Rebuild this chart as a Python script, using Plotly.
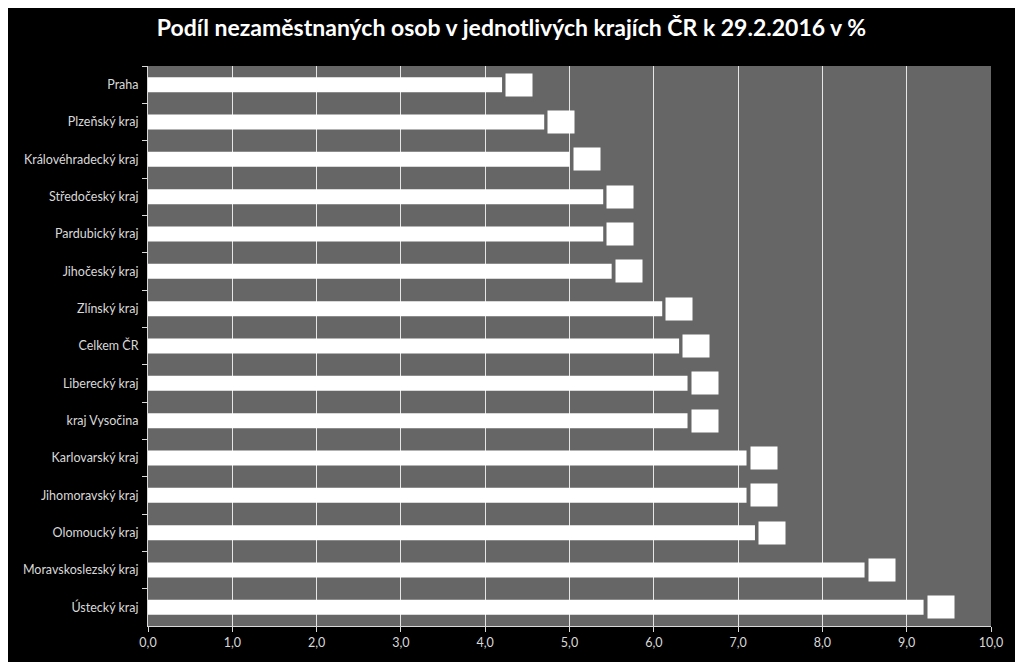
import plotly.graph_objects as go

regions = ["Praha", "Plzeňský kraj", "Královéhradecký kraj", "Středočeský kraj",
           "Pardubický kraj", "Jihočeský kraj", "Zlínský kraj", "Celkem ČR",
           "Liberecký kraj", "kraj Vysočina", "Karlovarský kraj", "Jihomoravský kraj",
           "Olomoucký kraj", "Moravskoslezský kraj", "Ústecký kraj"]
values = [4.2, 4.7, 5.0, 5.4, 5.4, 5.5, 6.1, 6.3, 6.4, 6.4, 7.1, 7.1, 7.2, 8.5, 9.2]
x_ticks = [0, 1, 2, 3, 4, 5, 6, 7, 8, 9, 10]

title = "Podíl nezaměstnaných osob v jednotlivých krajích ČR k 29.2.2016 v %"
FONT = "Lato"

fig = go.Figure()
fig.add_trace(go.Bar(
    y=regions, x=values, orientation="h",
    marker=dict(color="#ffffff", line=dict(width=0)),
    hoverinfo="x+y",
))

for r, v in zip(regions, values):
    fig.add_annotation(
        x=v, y=r, xref="x", yref="y",
        text=f"{v:.1f}".replace(".", ","),
        showarrow=False, xanchor="left", xshift=3,
        bgcolor="#ffffff", width=24, height=20,
        font=dict(color="#ffffff", size=11, family=FONT),
    )

fig.update_layout(
    width=1007, height=654,
    paper_bgcolor="#000000", plot_bgcolor="#666666",
    margin=dict(l=140, r=21, t=58, b=28),
    bargap=0.6,
    showlegend=False,
    separators=", ",
    title=dict(text=f"<b>{title}</b>", x=0.5, xanchor="center", y=0.969, yanchor="middle",
               font=dict(family=FONT, size=23, color="#ffffff")),
    font=dict(family=FONT, color="#d9d9d9", size=12),
)
fig.update_xaxes(
    range=[0, 10], tickvals=x_ticks, tickformat=".1f",
    showgrid=True, gridcolor="#e6e6e6", gridwidth=1.3,
    showline=True, linecolor="#d9d9d9", linewidth=1,
    ticks="outside", ticklen=5, tickcolor="#d9d9d9",
    tickfont=dict(size=12.5, color="#d9d9d9", family=FONT),
    zeroline=False, fixedrange=True,
)
fig.update_yaxes(
    autorange="reversed", type="category",
    showgrid=False, showline=True, linecolor="#d9d9d9", linewidth=1,
    ticks="outside", ticklen=5, tickcolor="#d9d9d9", tickson="boundaries",
    tickfont=dict(size=12.5, color="#d9d9d9", family=FONT),
    ticklabelstandoff=6,
)

fig.write_html("out.html")
